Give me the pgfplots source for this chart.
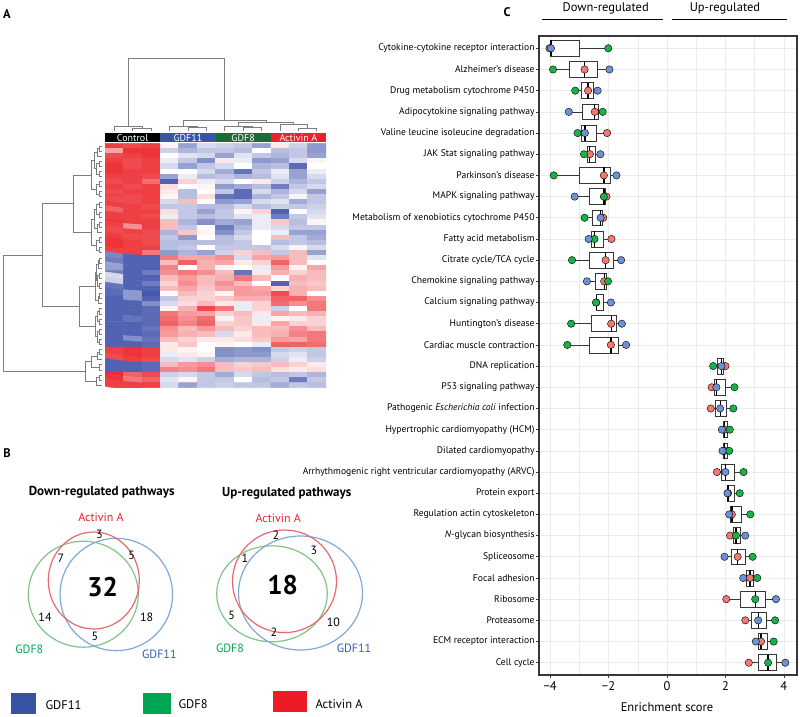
\documentclass[border=0pt]{standalone}
\usepackage{pgfplots}
\pgfplotsset{compat=1.18}
\usepgfplotslibrary{statistics}
\usepackage{fontspec}
\setmainfont{PT Sans}
\newcommand\fs[1]{\fontsize{#1}{#1}\selectfont}
\definecolor{ptred}{RGB}{243,120,112}
\definecolor{ptgreen}{RGB}{25,178,72}
\definecolor{ptblue}{RGB}{108,145,212}
\definecolor{gridgray}{RGB}{235,235,235}
\definecolor{axisgray}{RGB}{55,55,55}
\definecolor{dendro}{RGB}{125,125,125}
\definecolor{hmblue}{RGB}{58,85,164}
\definecolor{hmgreen}{RGB}{30,105,55}
\definecolor{hmred}{RGB}{237,34,36}
\definecolor{vgreen}{RGB}{128,196,132}
\definecolor{vred}{RGB}{232,104,112}
\definecolor{vblue}{RGB}{128,168,212}
\definecolor{lgblue}{RGB}{57,83,164}
\definecolor{lggreen}{RGB}{0,166,81}
\definecolor{lgred}{RGB}{237,28,36}
\definecolor{vtred}{RGB}{235,35,45}
\definecolor{vtgreen}{RGB}{0,168,80}
\definecolor{vtblue}{RGB}{55,92,178}
\newcommand{\bx}[6]{\addplot[boxplot/draw direction=x, boxplot/box extend=0.75, boxplot/whisker extend=0, draw=axisgray, line width=0.6pt, fill=white, solid, mark=none, boxplot/every median/.style={draw=black, line width=1.3pt}, boxplot prepared={draw position=#1, lower whisker=#2, lower quartile=#3, median=#4, upper quartile=#5, upper whisker=#6}] coordinates {};}
\begin{document}
\begin{tikzpicture}
\useasboundingbox (0,0) rectangle (800pt,717pt);
% ---------- canvas for text, Venn, legend ----------
\begin{axis}[at={(0pt,0pt)}, anchor=south west, width=800pt, height=717pt, scale only axis,
  xmin=0, xmax=800, ymin=0, ymax=717, y dir=reverse, hide axis, clip=false]
\node[font=\bfseries\fs{12.5}] at (axis cs:7,14) {A};
\node[font=\bfseries\fs{12.5}] at (axis cs:7,453) {B};
\node[font=\bfseries\fs{12.5}] at (axis cs:507,12) {C};
% heatmap group bar
\fill[black] (axis cs:105,133.3) rectangle (axis cs:160.25,141.7);
\fill[hmblue] (axis cs:160.25,133.3) rectangle (axis cs:215.5,141.7);
\fill[hmgreen] (axis cs:215.5,133.3) rectangle (axis cs:270.75,141.7);
\fill[hmred] (axis cs:270.75,133.3) rectangle (axis cs:326,141.7);
\node[text=white, font=\fs{10}] at (axis cs:132.6,137.6) {Control};
\node[text=white, font=\fs{10}] at (axis cs:187.9,137.6) {GDF11};
\node[text=white, font=\fs{10}] at (axis cs:243.1,137.6) {GDF8};
\node[text=white, font=\fs{10}] at (axis cs:298.4,137.6) {Activin A};
% Venn: down-regulated
\node[font=\bfseries\fs{13}] at (axis cs:101.7,492) {Down-regulated pathways};
\draw[vgreen, line width=1.2pt] (axis cs:83.3,594.2) ellipse [x radius=55pt, y radius=53pt];
\draw[vblue, line width=1.2pt] (axis cs:116.3,594.5) ellipse [x radius=56.3pt, y radius=56.2pt];
\draw[vred, line width=1.2pt] (axis cs:93.8,580.5) ellipse [x radius=45.5pt, y radius=48.5pt];
\node[text=vtred, font=\fs{12}] at (axis cs:101,517) {Activin A};
\node[font=\fs{12}] at (axis cs:99.3,534) {3};
\node[font=\fs{12}] at (axis cs:61,558) {7};
\node[font=\fs{12}] at (axis cs:131.7,555.7) {5};
\node[font=\bfseries\fs{27}] at (axis cs:102.7,587) {32};
\node[font=\fs{12}] at (axis cs:45,617) {14};
\node[font=\fs{12}] at (axis cs:146.7,617) {18};
\node[font=\fs{12}] at (axis cs:95,636) {5};
\node[text=vtgreen, font=\fs{12}] at (axis cs:29.3,649) {GDF8};
\node[text=vtblue, font=\fs{12}] at (axis cs:159.3,654) {GDF11};
% Venn: up-regulated
\node[font=\bfseries\fs{13}] at (axis cs:286.7,493.3) {Up-regulated pathways};
\draw[vgreen, line width=1.2pt] (axis cs:272,593.8) ellipse [x radius=55.3pt, y radius=48pt];
\draw[vblue, line width=1.2pt] (axis cs:300.5,593) ellipse [x radius=62pt, y radius=57pt];
\draw[vred, line width=1.2pt] (axis cs:284.5,581.3) ellipse [x radius=52pt, y radius=51.3pt];
\node[text=vtred, font=\fs{12}] at (axis cs:278.3,518.3) {Activin A};
\node[font=\fs{12}] at (axis cs:276,535.7) {2};
\node[font=\fs{12}] at (axis cs:314,550) {3};
\node[font=\fs{12}] at (axis cs:245,558.3) {1};
\node[font=\bfseries\fs{27}] at (axis cs:282.7,585.5) {18};
\node[font=\fs{12}] at (axis cs:231.7,615.7) {5};
\node[font=\fs{12}] at (axis cs:333.3,622.7) {10};
\node[font=\fs{12}] at (axis cs:274,632.3) {2};
\node[text=vtgreen, font=\fs{12}] at (axis cs:230,648.3) {GDF8};
\node[text=vtblue, font=\fs{12}] at (axis cs:354,648.3) {GDF11};
% bottom legend
\fill[lgblue] (axis cs:10.7,693) rectangle (axis cs:36,713.5);
\fill[lggreen] (axis cs:142.7,693) rectangle (axis cs:170.7,713.5);
\fill[lgred] (axis cs:273.3,691) rectangle (axis cs:307.3,711.7);
\node[anchor=west, font=\fs{12.5}] at (axis cs:42,705) {GDF11};
\node[anchor=west, font=\fs{12.5}] at (axis cs:175,704) {GDF8};
\node[anchor=west, font=\fs{12.5}] at (axis cs:312,704) {Activin A};
% panel C header
\node[font=\fs{12.5}] at (axis cs:605.7,8) {Down-regulated};
\node[font=\fs{12.5}] at (axis cs:725,8) {Up-regulated};
\draw[black, line width=0.9pt] (axis cs:541.7,19.3) -- (axis cs:663.3,19.3);
\draw[black, line width=0.9pt] (axis cs:671.7,19.3) -- (axis cs:787.3,19.3);
\node[font=\fs{12.5}] at (axis cs:667,707) {Enrichment score};
\end{axis}
% ---------- left dendrogram ----------
\begin{axis}[at={(0pt,329.3pt)}, anchor=south west, width=105pt, height=244.4pt, scale only axis,
  xmin=0, xmax=105, ymin=-0.5, ymax=47.5, y dir=reverse, hide axis, clip=false]
\addplot[dendro, line width=0.6pt, unbounded coords=jump, mark=none] coordinates {
(101.7,0)(99,0)(99,1)(101.7,1)(nan,nan)
(99,0.5)(97,0.5)(97,2)(101.7,2)(nan,nan)
(101.7,3)(99.5,3)(99.5,4)(101.7,4)(nan,nan)
(101.7,5)(99,5)(99,6)(101.7,6)(nan,nan)
(99.5,3.5)(96.5,3.5)(96.5,5.5)(99,5.5)(nan,nan)
(97,1.25)(94,1.25)(94,4.5)(96.5,4.5)(nan,nan)
(101.7,7)(99,7)(99,8)(101.7,8)(nan,nan)
(101.7,9)(99.5,9)(99.5,10)(101.7,10)(nan,nan)
(99,7.5)(96,7.5)(96,9.5)(99.5,9.5)(nan,nan)
(94,2.875)(91.7,2.875)(91.7,8.5)(96,8.5)(nan,nan)
(101.7,11)(99.5,11)(99.5,12)(101.7,12)(nan,nan)
(101.7,13)(99,13)(99,14)(101.7,14)(nan,nan)
(99.5,11.5)(96.5,11.5)(96.5,13.5)(99,13.5)(nan,nan)
(101.7,15)(99,15)(99,16)(101.7,16)(nan,nan)
(99,15.5)(97,15.5)(97,17)(101.7,17)(nan,nan)
(96.5,12.5)(94,12.5)(94,16.25)(97,16.25)(nan,nan)
(101.7,18)(99.5,18)(99.5,19)(101.7,19)(nan,nan)
(101.7,20)(99,20)(99,21)(101.7,21)(nan,nan)
(99.5,18.5)(96,18.5)(96,20.5)(99,20.5)(nan,nan)
(94,14.375)(91.7,14.375)(91.7,19.5)(96,19.5)(nan,nan)
(91.7,5.6875)(73.3,5.6875)(73.3,16.9375)(91.7,16.9375)(nan,nan)
(101.7,22)(99.5,22)(99.5,23)(101.7,23)(nan,nan)
(99.5,22.5)(98.5,22.5)(98.5,24)(101.7,24)(nan,nan)
(101.7,25)(99,25)(99,26)(101.7,26)(nan,nan)
(101.7,27)(99.5,27)(99.5,28)(101.7,28)(nan,nan)
(99,25.5)(97.5,25.5)(97.5,27.5)(99.5,27.5)(nan,nan)
(98.5,23.25)(96.5,23.25)(96.5,26.5)(97.5,26.5)(nan,nan)
(101.7,29)(99,29)(99,30)(101.7,30)(nan,nan)
(99,29.5)(98,29.5)(98,31)(101.7,31)(nan,nan)
(96.5,24.875)(95,24.875)(95,30.25)(98,30.25)(nan,nan)
(101.7,32)(99,32)(99,33)(101.7,33)(nan,nan)
(101.7,34)(99.5,34)(99.5,35)(101.7,35)(nan,nan)
(99,32.5)(97.5,32.5)(97.5,34.5)(99.5,34.5)(nan,nan)
(101.7,36)(99,36)(99,37)(101.7,37)(nan,nan)
(101.7,38)(99.5,38)(99.5,39)(101.7,39)(nan,nan)
(99,36.5)(97.5,36.5)(97.5,38.5)(99.5,38.5)(nan,nan)
(97.5,33.5)(95,33.5)(95,37.5)(97.5,37.5)(nan,nan)
(95,27.5625)(79.3,27.5625)(79.3,35.5)(95,35.5)(nan,nan)
(73.3,11.3125)(42.7,11.3125)(42.7,31.53125)(79.3,31.53125)(nan,nan)
(101.7,40)(99,40)(99,41)(101.7,41)(nan,nan)
(99,40.5)(97,40.5)(97,42)(101.7,42)(nan,nan)
(101.7,43)(99,43)(99,44)(101.7,44)(nan,nan)
(97,41.25)(91,41.25)(91,43.5)(99,43.5)(nan,nan)
(101.7,45)(99,45)(99,46)(101.7,46)(nan,nan)
(99,45.5)(96,45.5)(96,47)(101.7,47)(nan,nan)
(91,42.375)(85,42.375)(85,46.25)(96,46.25)(nan,nan)
(42.7,21.421875)(3.3,21.421875)(3.3,44.3125)(85,44.3125)
};
\end{axis}
% ---------- top dendrogram ----------
\begin{axis}[at={(105pt,584pt)}, anchor=south west, width=221pt, height=83pt, scale only axis,
  xmin=-0.5, xmax=11.5, ymin=50, ymax=133, y dir=reverse, hide axis, clip=false]
\addplot[dendro, line width=0.6pt, unbounded coords=jump, mark=none] coordinates {
(1,131)(1,128.7)(2,128.7)(2,131)(nan,nan)
(0,131)(0,126.7)(1.5,126.7)(1.5,128.7)(nan,nan)
(4,131)(4,127.7)(5,127.7)(5,131)(nan,nan)
(3,131)(3,126)(4.5,126)(4.5,127.7)(nan,nan)
(7,131)(7,127.7)(8,127.7)(8,131)(nan,nan)
(6,131)(6,126.3)(7.5,126.3)(7.5,127.7)(nan,nan)
(10,131)(10,128)(11,128)(11,131)(nan,nan)
(9,131)(9,124.7)(10.5,124.7)(10.5,128)(nan,nan)
(6.75,126.3)(6.75,122.7)(9.75,122.7)(9.75,124.7)(nan,nan)
(3.75,126)(3.75,120)(8.25,120)(8.25,122.7)(nan,nan)
(0.75,126.7)(0.75,58.3)(6,58.3)(6,120)
};
\end{axis}
% ---------- heatmap ----------
\begin{axis}[at={(105pt,329.3pt)}, anchor=south west, width=221pt, height=244.4pt, scale only axis,
  xmin=-0.5, xmax=11.5, ymin=-0.5, ymax=47.5, y dir=reverse, hide axis,
  colormap={hm}{rgb255=(50,70,165) rgb255=(255,255,255) rgb255=(235,30,35)},
  point meta min=-1, point meta max=1]
\addplot[matrix plot*, mesh/cols=12, point meta=explicit]
 table[row sep=\\, x expr={mod(\coordindex,12)}, y expr={floor(\coordindex/12)}, meta=v] {
v\\
0.85\\0.8\\0.85\\0.05\\-0.5\\-0.2\\-0.25\\-0.3\\-0.5\\0.1\\-0.25\\-0.55\\
0.4\\0.9\\0.9\\-0.25\\-0.4\\-0.3\\-0.3\\-0.35\\0\\-0.35\\-0.3\\-0.55\\
0.8\\0.85\\0.9\\0\\-0.15\\-0.2\\-0.5\\-0.15\\-0.3\\-0.4\\-0.3\\-0.5\\
0.85\\0.8\\0.85\\-0.1\\-0.3\\-0.6\\0.1\\-0.1\\-0.55\\-0.5\\-0.2\\0.05\\
0.9\\0.8\\0.85\\-0.2\\-0.5\\-0.3\\-0.2\\0\\-0.4\\-0.35\\-0.8\\0\\
0.9\\0.85\\0.85\\0\\0\\-0.2\\-0.45\\-0.75\\-0.3\\-0.1\\-0.5\\-0.1\\
0.85\\0.85\\0.8\\-0.5\\-0.1\\-0.35\\-0.3\\-0.4\\-0.35\\-0.15\\-0.5\\-0.2\\
0.8\\0.85\\0.65\\-0.85\\0.2\\-0.1\\-0.2\\0\\0.1\\-0.25\\-0.4\\-0.3\\
0.85\\0.8\\0.85\\0.15\\0\\0.05\\-0.55\\-0.45\\-0.35\\-0.7\\-0.3\\-0.2\\
0.8\\0.85\\0.85\\0.1\\-0.35\\0\\-0.3\\-0.8\\-0.2\\-0.4\\-0.2\\-0.5\\
0.85\\0.8\\0.85\\0.05\\-0.35\\0.15\\-0.75\\-0.8\\-0.4\\-0.3\\-0.05\\-0.3\\
0.8\\0.8\\0.85\\-0.2\\0.3\\0\\-0.55\\-0.5\\-0.2\\-0.15\\-0.45\\-0.3\\
0.85\\0.85\\0.8\\-0.3\\-0.3\\-0.35\\-0.35\\-0.2\\-0.35\\-0.25\\-0.3\\-0.25\\
0.7\\0.85\\0.85\\0.15\\-0.3\\-0.5\\-0.3\\0.05\\0.2\\-0.85\\0\\-0.2\\
0.85\\0.85\\0.8\\-0.1\\-0.3\\-0.35\\-0.3\\-0.15\\-0.1\\-0.7\\-0.3\\-0.15\\
0.9\\0.85\\0.85\\0.3\\-0.4\\-0.6\\-0.45\\-0.5\\-0.1\\0.25\\-0.35\\0.05\\
0.85\\0.5\\0.85\\0.3\\-0.3\\0\\-0.7\\-0.4\\-0.1\\-0.2\\-0.3\\-0.3\\
0.8\\0.85\\0.8\\-0.4\\0.25\\0.05\\-0.6\\-0.3\\0\\-0.1\\-0.5\\-0.5\\
0.85\\0.8\\0.8\\-0.3\\-0.55\\0\\-0.35\\-0.2\\0\\0.3\\-0.3\\-0.45\\
0.9\\0.85\\0.8\\-0.35\\-0.35\\-0.35\\-0.35\\-0.3\\0\\-0.35\\-0.3\\-0.35\\
0.9\\0.85\\0.85\\-0.35\\-0.3\\0\\-0.3\\-0.3\\-0.3\\-0.2\\-0.05\\-0.2\\
0.85\\0.85\\0.6\\-0.55\\-0.4\\-0.5\\-0.25\\0.2\\0.3\\-0.3\\0.3\\-0.5\\
-0.65\\-0.85\\-0.85\\0.6\\0.4\\0.4\\0.5\\-0.2\\0.4\\0.45\\0.3\\-0.15\\
-0.7\\-0.85\\-0.85\\0.3\\0.7\\0.35\\0.4\\0.1\\0.2\\0.7\\0.3\\0\\
-0.5\\-0.85\\-0.85\\0.55\\0\\0.35\\-0.05\\0\\-0.1\\0.45\\0.05\\0.4\\
-0.7\\-0.85\\-0.7\\0.5\\0.6\\0.5\\0.3\\-0.75\\0.1\\0.35\\0.2\\0.3\\
-0.2\\-0.85\\-0.85\\0.3\\0.45\\0.3\\0.35\\0.6\\0.3\\0\\0.35\\0.3\\
-0.25\\-0.85\\-0.7\\0.2\\0.5\\0.3\\0.5\\0.3\\0\\-0.85\\0.3\\0.25\\
-0.75\\-0.85\\-0.85\\0.3\\0.4\\0.25\\0.4\\0.45\\0.4\\0.2\\0.35\\0.3\\
-0.8\\-0.55\\-0.9\\0\\0.3\\0.2\\0.05\\0.45\\0.45\\0.8\\0.35\\0\\
-0.85\\-0.55\\-0.85\\-0.3\\0.2\\0.2\\0.25\\0.35\\0.35\\0.7\\0.7\\0.5\\
-0.85\\-0.85\\-0.6\\-0.2\\0.15\\0.3\\0.1\\-0.1\\0.2\\0.65\\0.5\\0.6\\
-0.85\\-0.85\\-0.8\\0.05\\0.35\\0.8\\0.6\\-0.1\\0.2\\-0.25\\0\\0.6\\
-0.85\\-0.85\\-0.8\\0.6\\0.45\\0.4\\0.2\\0.3\\0.1\\0.4\\0.3\\0.35\\
-0.85\\-0.75\\-0.8\\0.65\\0.5\\0.65\\-0.05\\0.25\\-0.1\\0.05\\0.1\\0.2\\
-0.85\\-0.85\\-0.8\\0.7\\0.55\\0.7\\0.2\\0.25\\0.1\\0.4\\0.2\\0.2\\
-0.85\\-0.85\\-0.75\\0.5\\0.3\\0.45\\0.3\\0.2\\0.3\\0.3\\0.5\\0.3\\
-0.85\\-0.85\\-0.8\\0.45\\0.35\\0.3\\-0.2\\0.1\\0.3\\0.35\\0.55\\0.6\\
-0.85\\-0.6\\-0.75\\0.3\\0.2\\0.1\\0.1\\0.15\\0.25\\0.45\\0.4\\0.6\\
-0.85\\-0.85\\-0.8\\0.1\\0.25\\0\\0.05\\0\\-0.1\\0.7\\0.7\\0.65\\
0.85\\0.9\\0.85\\0.1\\0.05\\0\\-0.6\\-0.55\\-0.6\\-0.3\\-0.25\\-0.3\\
0.85\\0.9\\0.85\\-0.1\\0.1\\0.05\\-0.6\\-0.55\\-0.55\\-0.2\\-0.15\\-0.3\\
0.8\\0.85\\0.8\\-0.2\\-0.15\\-0.25\\-0.45\\-0.4\\-0.4\\-0.25\\-0.1\\-0.25\\
-0.85\\-0.85\\-0.8\\0.3\\0.45\\0.5\\0.3\\0.2\\0.25\\0.3\\0.2\\0.1\\
-0.85\\-0.85\\-0.8\\0.55\\0.5\\0.6\\0.3\\0.25\\0.3\\0.15\\0.1\\0.15\\
0.95\\0.7\\0.8\\-0.25\\-0.2\\-0.3\\-0.45\\-0.2\\-0.3\\-0.35\\-0.3\\-0.4\\
0.9\\0.6\\0.7\\-0.15\\0.05\\-0.3\\-0.3\\0\\-0.35\\-0.3\\-0.7\\-0.3\\
0.85\\0.85\\0.85\\-0.2\\-0.5\\-0.3\\-0.25\\-0.3\\-0.3\\-0.45\\-0.3\\-0.35\\
};
\end{axis}
% ---------- panel C ----------
\begin{axis}[at={(539pt,42pt)}, anchor=south west, width=258pt, height=639pt, scale only axis,
  xmin=-4.38, xmax=4.45, ymin=0.42, ymax=30.58, y dir=reverse,
  xtick={-4,-2,0,2,4}, xticklabels={−4,−2,0,2,4}, minor xtick={-3,-1,1,3},
  ytick={1,...,30},
  yticklabels={{Cytokine-cytokine receptor interaction},{Alzheimer’s disease},{Drug metabolism cytochrome P450},{Adipocytokine signaling pathway},{Valine leucine isoleucine degradation},{JAK Stat signaling pathway},{Parkinson’s disease},{MAPK signaling pathway},{Metabolism of xenobiotics cytochrome P450},{Fatty acid metabolism},{Citrate cycle/TCA cycle},{Chemokine signaling pathway},{Calcium signaling pathway},{Huntington’s disease},{Cardiac muscle contraction},{DNA replication},{P53 signaling pathway},{Pathogenic \textit{Escherichia coli} infection},{Hypertrophic cardiomyopathy (HCM)},{Dilated cardiomyopathy},{Arrhythmogenic right ventricular cardiomyopathy (ARVC)},{Protein export},{Regulation actin cytoskeleton},{\textit{N}-glycan biosynthesis},{Spliceosome},{Focal adhesion},{Ribosome},{Proteasome},{ECM receptor interaction},{Cell cycle}},
  grid=both, major grid style={draw=gridgray, line width=0.6pt}, minor grid style={draw=gridgray, line width=0.4pt},
  axis line style={draw=axisgray, line width=1.2pt},
  tick align=outside, xtick pos=bottom, ytick pos=left,
  major tick length=3pt, minor tick length=0pt,
  tick style={draw=axisgray, line width=0.6pt},
  xticklabel style={font=\fs{12.5}, text=black},
  yticklabel style={font=\fs{9.6}, text=black, inner sep=1.2pt},
  axis on top=false]
\bx{1}{-4.02}{-3.995}{-3.97}{-2.99}{-2.01}
\bx{2}{-3.90}{-3.36}{-2.82}{-2.395}{-1.97}
\bx{3}{-3.14}{-2.92}{-2.70}{-2.5375}{-2.375}
\bx{4}{-3.36}{-2.915}{-2.47}{-2.335}{-2.20}
\bx{5}{-3.06}{-2.935}{-2.81}{-2.43}{-2.05}
\bx{6}{-2.84}{-2.74}{-2.64}{-2.46}{-2.28}
\bx{7}{-3.875}{-3.0175}{-2.16}{-1.945}{-1.73}
\bx{8}{-3.16}{-2.66}{-2.16}{-2.115}{-2.07}
\bx{9}{-2.82}{-2.545}{-2.27}{-2.225}{-2.18}
\bx{10}{-2.68}{-2.58}{-2.48}{-2.19}{-1.90}
\bx{11}{-3.25}{-2.675}{-2.10}{-1.835}{-1.57}
\bx{12}{-2.74}{-2.445}{-2.15}{-2.085}{-2.02}
\bx{13}{-2.43}{-2.425}{-2.42}{-2.17}{-1.92}
\bx{14}{-3.28}{-2.595}{-1.91}{-1.7275}{-1.545}
\bx{15}{-3.41}{-2.665}{-1.92}{-1.66}{-1.40}
\bx{16}{1.58}{1.7225}{1.865}{1.9325}{2.00}
\bx{17}{1.53}{1.61}{1.69}{2.00}{2.31}
\bx{18}{1.50}{1.66}{1.82}{2.045}{2.27}
\bx{19}{1.88}{1.925}{1.97}{2.06}{2.15}
\bx{20}{1.90}{1.94}{1.98}{2.055}{2.13}
\bx{21}{1.71}{1.855}{2.00}{2.31}{2.62}
\bx{22}{2.07}{2.08}{2.09}{2.29}{2.49}
\bx{23}{2.13}{2.175}{2.22}{2.535}{2.85}
\bx{24}{2.16}{2.26}{2.36}{2.52}{2.68}
\bx{25}{1.97}{2.195}{2.42}{2.675}{2.93}
\bx{26}{2.61}{2.725}{2.84}{2.965}{3.09}
\bx{27}{2.03}{2.525}{3.02}{3.375}{3.73}
\bx{28}{2.68}{2.90}{3.12}{3.41}{3.70}
\bx{29}{3.04}{3.13}{3.22}{3.435}{3.65}
\bx{30}{2.80}{3.13}{3.46}{3.755}{4.05}
\addplot[only marks, mark=*, mark size=3.7pt, mark options={draw=none, fill=ptred}] coordinates {
(-4.02,1)(-2.82,2)(-2.70,3)(-2.47,4)(-2.05,5)(-2.64,6)(-2.16,7)(-2.07,8)(-2.18,9)(-1.90,10)(-2.10,11)(-2.15,12)(-2.42,13)(-1.91,14)(-1.92,15)(2.00,16)(1.53,17)(1.50,18)(1.97,19)(1.98,20)(1.71,21)(2.09,22)(2.22,23)(2.16,24)(2.42,25)(2.84,26)(2.03,27)(2.68,28)(3.22,29)(2.80,30)};
\addplot[only marks, mark=*, mark size=3.7pt, mark options={draw=none, fill=ptgreen}] coordinates {
(-2.01,1)(-3.90,2)(-3.14,3)(-2.20,4)(-3.06,5)(-2.84,6)(-3.875,7)(-2.16,8)(-2.82,9)(-2.48,10)(-3.25,11)(-2.02,12)(-2.43,13)(-3.28,14)(-3.41,15)(1.58,16)(2.31,17)(2.27,18)(2.15,19)(2.13,20)(2.62,21)(2.49,22)(2.85,23)(2.36,24)(2.93,25)(3.09,26)(3.02,27)(3.70,28)(3.65,29)(3.46,30)};
\addplot[only marks, mark=*, mark size=3.7pt, mark options={draw=none, fill=ptblue}] coordinates {
(-3.97,1)(-1.97,2)(-2.375,3)(-3.36,4)(-2.81,5)(-2.28,6)(-1.73,7)(-3.16,8)(-2.27,9)(-2.68,10)(-1.57,11)(-2.74,12)(-1.92,13)(-1.545,14)(-1.40,15)(1.865,16)(1.69,17)(1.82,18)(1.88,19)(1.90,20)(2.00,21)(2.07,22)(2.13,23)(2.68,24)(1.97,25)(2.61,26)(3.73,27)(3.12,28)(3.04,29)(4.05,30)};
\end{axis}
\end{tikzpicture}
\end{document}
